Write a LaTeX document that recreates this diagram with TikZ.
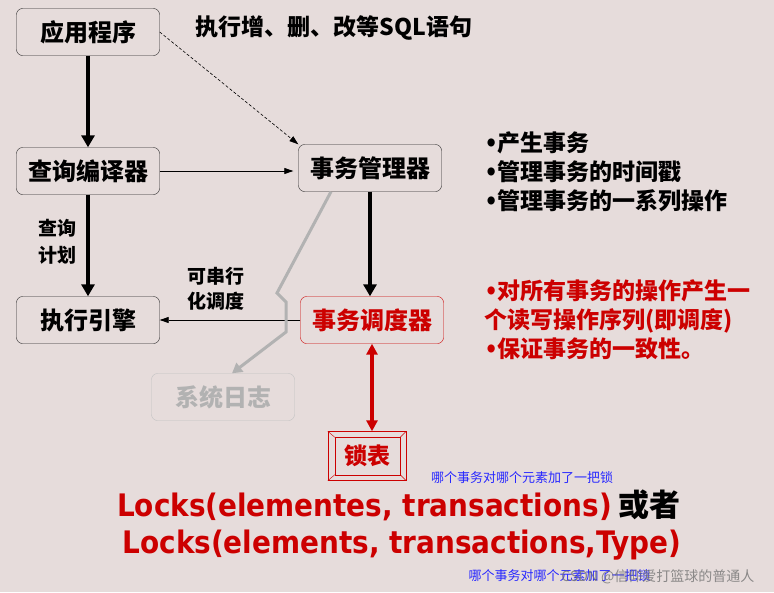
\documentclass[tikz,border=0pt]{standalone}
\usepackage{fontspec}
\setmainfont{Noto Sans CJK SC}
\newfontfamily\locksfont{DejaVu Sans Condensed}
\usetikzlibrary{arrows.meta}

\definecolor{slidebg}{RGB}{230,220,219}
\definecolor{lockred}{RGB}{204,0,0}
\definecolor{loggray}{RGB}{178,178,178}
\definecolor{noteblue}{RGB}{40,40,255}

\newcommand{\dotitem}{{\locksfont •}}

\tikzset{
  blockbox/.style={draw=black!85, rounded corners=6pt, minimum width=143pt, minimum height=47pt, inner sep=0pt, font=\bfseries\fontsize{24}{28}\selectfont},
  thickarrow/.style={line width=4pt, -{Triangle[length=12pt, width=13pt]}},
  thinarrow/.style={line width=0.8pt, -{Triangle[length=9pt, width=6pt]}},
  notetext/.style={font=\bfseries\fontsize{23}{29}\selectfont, align=left},
}

\begin{document}
\begin{tikzpicture}[x=1pt, y=-1pt, every node/.style={align=center}]
\fill[slidebg] (0,0) rectangle (774,592);
\useasboundingbox (0,0) rectangle (774,592);

% boxes
\node[blockbox] at (88,32) (app) {应用程序};
\node[blockbox] at (88,171) (compiler) {查询编译器};
\node[blockbox] at (88,320) (engine) {执行引擎};
\node[blockbox] at (370,168) (txmgr) {事务管理器};
\node[blockbox, draw=lockred, text=lockred] at (372,320) (sched) {事务调度器};
\node[blockbox, draw=loggray!80, text=loggray] at (223,397) (syslog) {系统日志};
\node[draw=lockred, minimum width=78pt, minimum height=49pt, inner sep=0pt, text=lockred, font=\bfseries\fontsize{23}{26}\selectfont] at (367,456) (locktab) {锁表};
\draw[lockred, thin] ([shift={(7,6)}]locktab.north west) rectangle ([shift={(-6,-6)}]locktab.south east);
\draw[lockred, thin] (locktab.north west) -- ++(7,6) (locktab.north east) -- ++(-6,6)
  (locktab.south west) -- ++(7,-6) (locktab.south east) -- ++(-6,-6);

% texts
\node[font=\bfseries\fontsize{23}{26}\selectfont] at (334,28) (sqlnote) {执行增、删、改等SQL语句};
\node[notetext, anchor=west] at (481,172) (mgrnotes) {\dotitem 产生事务\\\dotitem 管理事务的时间戳\\\dotitem 管理事务的一系列操作};
\node[notetext, anchor=west, text=lockred] at (481,320) (schednotes) {\dotitem 对所有事务的操作产生一\\个读写操作序列(即调度)\\\dotitem 保证事务的一致性。};
\node[font=\bfseries\fontsize{19}{27}\selectfont] at (57,242) (planlabel) {查询\\计划};
\node[font=\bfseries\fontsize{19}{25}\selectfont] at (216,289) (serlabel) {可串行\\化调度};
\node[font=\bfseries\fontsize{31}{36}\selectfont] at (399,505) (locksone) {\textcolor{lockred}{\locksfont Locks(elementes, transactions)} 或者};
\node[font=\bfseries\fontsize{31}{36}\selectfont, text=lockred] at (402,545) (lockstwo) {\locksfont Locks(elements, transactions,Type)};
\node[font=\fontsize{13}{15}\selectfont, text=noteblue] at (522,478) (blueone) {哪个事务对哪个元素加了一把锁};
\node[font=\fontsize{13}{15}\selectfont, text=noteblue, anchor=west] at (465,576) (bluetwo) {哪个事务对哪个元素加了一把锁};
\node[font=\fontsize{14}{16}\selectfont, text=black!55, opacity=0.8, anchor=east] at (758,577) (mark) {CSDN @信仰爱打篮球的普通人};

% connectors
\draw[thickarrow] (app.south) -- (compiler.north);
\draw[thickarrow] (compiler.south) -- (engine.north);
\draw[thickarrow] (txmgr.south) -- (txmgr.south |- sched.north);
\draw[thinarrow] (compiler.east) -- (compiler.east -| txmgr.west) [shorten >=5pt];
\draw[thinarrow] (sched.west) -- (sched.west -| engine.east);
\draw[thinarrow, densely dashed, line width=0.6pt] (app.east) -- (txmgr.north west);
\draw[loggray, line width=3pt, -{Triangle[length=10pt, width=11pt]}] ([xshift=-39pt]txmgr.south) -- (277,293) -- (286,302) -- (286,332) -- ([xshift=9pt]syslog.north);
\draw[lockred, line width=3.5pt, {Triangle[length=11pt, width=11pt]}-{Triangle[length=11pt, width=11pt]}] (sched.south) -- (sched.south |- locktab.north);
\end{tikzpicture}
\end{document}
